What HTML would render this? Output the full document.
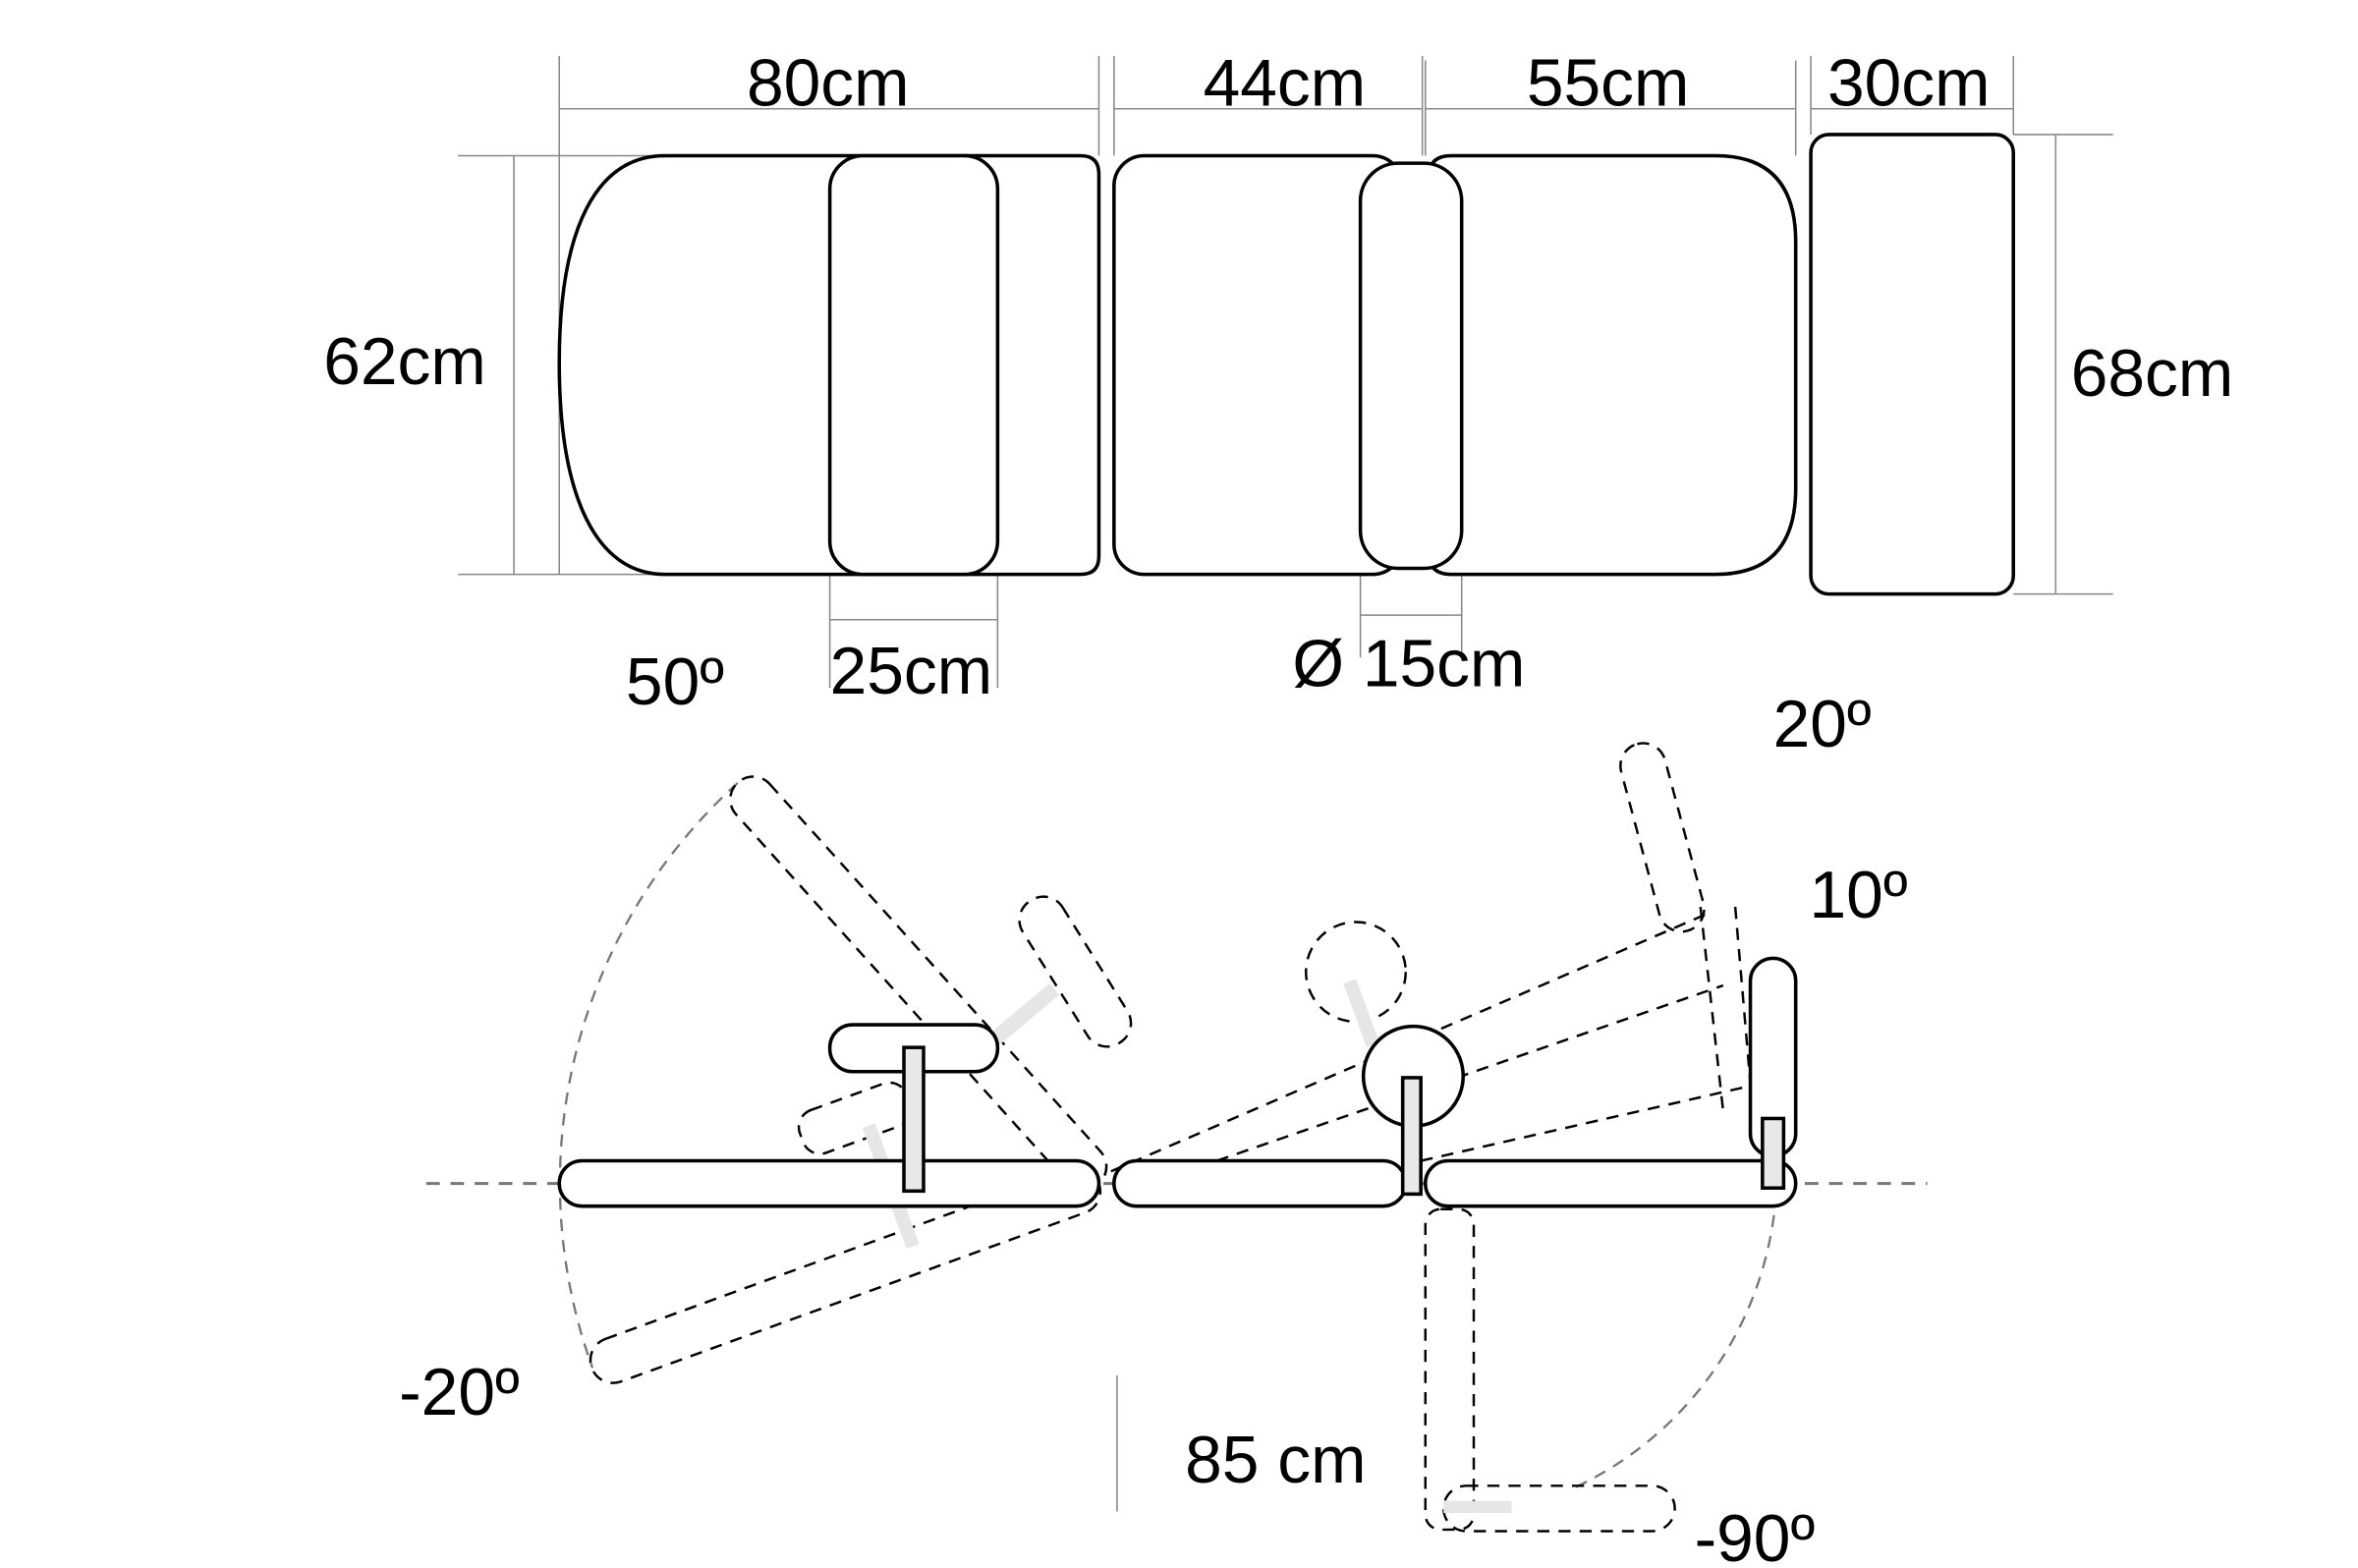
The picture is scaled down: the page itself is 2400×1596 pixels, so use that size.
<!DOCTYPE html>
<html><head><meta charset="utf-8"><style>html,body{margin:0;padding:0;background:#fff}svg{display:block}</style></head>
<body>
<svg width="2400" height="1596" viewBox="0 0 1560 1037.4" xmlns="http://www.w3.org/2000/svg" font-family="Liberation Sans, sans-serif">
<g stroke="#888" stroke-width="1" fill="none">
<line x1="370" y1="72" x2="727" y2="72"/><line x1="737" y1="72" x2="941" y2="72"/><line x1="943" y1="72" x2="1188" y2="72"/><line x1="1198" y1="72" x2="1332" y2="72"/>
<line x1="370" y1="37" x2="370" y2="380"/><line x1="727" y1="37" x2="727" y2="103"/><line x1="737" y1="37" x2="737" y2="103"/><line x1="941" y1="37" x2="941" y2="103"/><line x1="943" y1="40" x2="943" y2="103"/><line x1="1188" y1="40" x2="1188" y2="103"/><line x1="1198" y1="37" x2="1198" y2="89"/><line x1="1332" y1="37" x2="1332" y2="89"/>
<line x1="303" y1="103" x2="440" y2="103"/><line x1="303" y1="380" x2="440" y2="380"/><line x1="340" y1="103" x2="340" y2="380"/>
<line x1="1332" y1="89" x2="1398" y2="89"/><line x1="1332" y1="393" x2="1398" y2="393"/><line x1="1360" y1="89" x2="1360" y2="393"/>
<line x1="549" y1="380" x2="549" y2="455"/><line x1="660" y1="380" x2="660" y2="455"/><line x1="549" y1="410" x2="660" y2="410"/>
<line x1="900" y1="376" x2="900" y2="435"/><line x1="967" y1="376" x2="967" y2="435"/><line x1="900" y1="407" x2="967" y2="407"/>
<line x1="739" y1="910" x2="739" y2="1000"/>
</g>
<g stroke="#000" stroke-width="2.3" fill="#fff">
<path d="M440,103 H715 Q727,103 727,115 V368 Q727,380 715,380 H440 C395,380 370,330 370,240 C370,150 395,103 440,103 Z"/>
<rect x="549" y="103" width="111" height="277" rx="22"/>
<rect x="737" y="103" width="191" height="277" rx="20"/>
<path d="M960,103 H1135 Q1188,103 1188,160 V323 Q1188,380 1135,380 H960 Q945,380 945,365 V118 Q945,103 960,103 Z"/>
<rect x="900" y="108" width="67" height="268" rx="25"/>
<rect x="1198" y="89" width="134" height="304" rx="12"/>
</g>
<g font-size="44" fill="#000">
<text x="494" y="70">80cm</text><text x="796" y="70">44cm</text><text x="1010" y="70">55cm</text><text x="1209" y="70">30cm</text>
<text x="214" y="254">62cm</text><text x="1370" y="262">68cm</text>
<text x="549" y="459">25cm</text><text x="855" y="454">Ø 15cm</text>
<text x="414" y="466">50º</text><text x="1173" y="494">20º</text><text x="1197" y="607">10º</text>
<text x="264" y="936">-20º</text><text x="784" y="981">85 cm</text><text x="1121" y="1033">-90º</text>
</g>
<line x1="282" y1="783" x2="1275" y2="783" stroke="#777" stroke-width="2" stroke-dasharray="9,7"/>
<g stroke="#777" stroke-width="1.5" fill="none" stroke-dasharray="8,6">
<path d="M488,518 A357,357 0 0 0 392,905"/>
<path d="M1175,790 A232,232 0 0 1 1040,985"/>
</g>
<g stroke="#000" stroke-width="1.6" fill="none" stroke-dasharray="8,6">
<rect x="370" y="768" width="357" height="30" rx="15" transform="rotate(48 727 783)"/>
<rect x="370" y="768" width="357" height="30" rx="15" transform="rotate(-20 727 783)"/>
<rect x="656" y="628" width="111" height="31" rx="15" transform="rotate(58 712 643)"/>
<rect x="528" y="725" width="75" height="30" rx="12" transform="rotate(-20 565 740)"/>
<circle cx="897" cy="643" r="33"/>
<line x1="735" y1="775" x2="1133" y2="603"/><line x1="805" y1="768" x2="1140" y2="652"/>
<line x1="940" y1="768" x2="1160" y2="718"/>
<rect x="1085" y="490" width="30" height="128" rx="15" transform="rotate(-15 1100 555)"/>
<line x1="1148" y1="600" x2="1160" y2="740"/><line x1="1125" y1="600" x2="1140" y2="735"/>
<rect x="943" y="800" width="32" height="212" rx="10"/>
<rect x="955" y="983" width="153" height="30" rx="15"/>
</g>
<g fill="#e6e6e6" stroke="none">
<rect x="662" y="640" width="10" height="80" transform="rotate(50 667 680)"/>
<rect x="585" y="742" width="9" height="85" transform="rotate(-20 590 785)"/>
<rect x="896" y="648" width="9" height="45" transform="rotate(-20 900 670)"/>
<rect x="955" y="993" width="45" height="8"/>
</g>
<g stroke="#000" stroke-width="2.3" fill="#fff">
<rect x="370" y="768" width="357" height="30" rx="15"/>
<rect x="737" y="768" width="193" height="30" rx="15"/>
<rect x="943" y="768" width="245" height="30" rx="15"/>
<rect x="549" y="678" width="111" height="31" rx="15"/>
<circle cx="935" cy="712" r="33"/>
<rect x="1158" y="634" width="30" height="131" rx="15"/>
</g>
<g stroke="#000" stroke-width="2.3" fill="#e8e8e8">
<rect x="598" y="693" width="13" height="95"/>
<rect x="928" y="713" width="12" height="77"/>
<rect x="1166" y="740" width="14" height="46"/>
</g>
</svg>
</body></html>
